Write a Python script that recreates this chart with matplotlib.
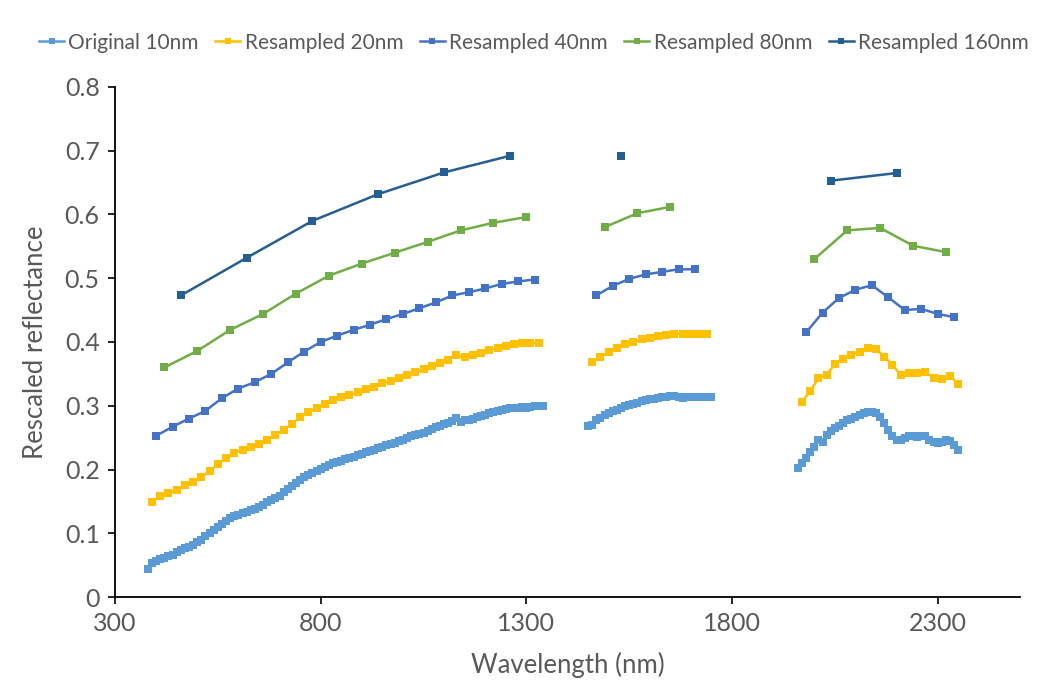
import numpy as np
import matplotlib.pyplot as plt

plt.rcParams['font.family'] = ['Lato', 'DejaVu Sans']

# three spectral windows (water bands removed), original 10 nm sampling
win10 = [(380, 1340), (1450, 1750), (1960, 2350)]
orig_seg1 = [0.044, 0.053, 0.056, 0.059, 0.061, 0.064, 0.066, 0.070, 0.074, 0.077,
             0.079, 0.082, 0.086, 0.090, 0.095, 0.100, 0.105, 0.110, 0.115, 0.120,
             0.124, 0.127, 0.129, 0.132, 0.134, 0.136, 0.138, 0.141, 0.145, 0.149,
             0.152, 0.155, 0.159, 0.164, 0.169, 0.174, 0.179, 0.184, 0.188, 0.192,
             0.195, 0.198, 0.201, 0.204, 0.207, 0.210, 0.212, 0.214, 0.216, 0.218,
             0.220, 0.222, 0.225, 0.227, 0.229, 0.231, 0.234, 0.236, 0.238, 0.240,
             0.242, 0.245, 0.247, 0.250, 0.252, 0.254, 0.256, 0.258, 0.261, 0.263,
             0.266, 0.268, 0.271, 0.273, 0.276, 0.281, 0.274, 0.277, 0.278, 0.280,
             0.282, 0.284, 0.286, 0.288, 0.290, 0.292, 0.293, 0.295, 0.296, 0.297,
             0.297, 0.298, 0.297, 0.298, 0.299, 0.299, 0.300]
orig_seg2 = [0.268, 0.270, 0.277, 0.281, 0.285, 0.288, 0.291, 0.293, 0.296, 0.299,
             0.301, 0.303, 0.305, 0.307, 0.309, 0.310, 0.311, 0.312, 0.313, 0.314,
             0.315, 0.315, 0.314, 0.312, 0.313, 0.313, 0.313, 0.313, 0.313, 0.313,
             0.313]
orig_seg3 = [0.202, 0.210, 0.218, 0.227, 0.236, 0.247, 0.243, 0.254, 0.261, 0.265,
             0.269, 0.273, 0.277, 0.280, 0.283, 0.286, 0.289, 0.290, 0.290, 0.288,
             0.282, 0.273, 0.262, 0.253, 0.247, 0.246, 0.250, 0.253, 0.252, 0.251,
             0.253, 0.252, 0.247, 0.243, 0.242, 0.243, 0.247, 0.244, 0.238, 0.231]

# resampled series (band centres + values, already offset by 0.1 per level)
wl20 = [list(range(390, 1331, 20)), list(range(1460, 1741, 20)), list(range(1970, 2351, 20))]
r20 = [[0.149, 0.158, 0.163, 0.168, 0.176, 0.181, 0.188, 0.198, 0.208, 0.218,
        0.226, 0.231, 0.235, 0.240, 0.247, 0.254, 0.262, 0.272, 0.282, 0.290,
        0.297, 0.303, 0.309, 0.313, 0.317, 0.321, 0.326, 0.330, 0.335, 0.339,
        0.344, 0.349, 0.353, 0.357, 0.362, 0.367, 0.372, 0.379, 0.376, 0.379,
        0.383, 0.387, 0.391, 0.394, 0.397, 0.398, 0.398, 0.399],
       [0.368, 0.376, 0.385, 0.391, 0.397, 0.400, 0.404, 0.407, 0.409, 0.411,
        0.413, 0.413, 0.413, 0.413, 0.413],
       [0.306, 0.323, 0.343, 0.349, 0.365, 0.373, 0.380, 0.385, 0.390, 0.389,
        0.377, 0.364, 0.348, 0.352, 0.352, 0.353, 0.344, 0.342, 0.347, 0.334]]

wl40 = [list(range(400, 1321, 40)), list(range(1470, 1711, 40)), list(range(1980, 2341, 40))]
r40 = [[0.253, 0.267, 0.280, 0.292, 0.312, 0.327, 0.337, 0.350, 0.368, 0.385,
        0.400, 0.410, 0.419, 0.427, 0.436, 0.444, 0.453, 0.462, 0.473, 0.478,
        0.484, 0.491, 0.495, 0.498],
       [0.473, 0.488, 0.499, 0.506, 0.510, 0.514, 0.514],
       [0.415, 0.446, 0.469, 0.482, 0.489, 0.470, 0.450, 0.452, 0.444, 0.439]]

wl80 = [list(range(420, 1301, 80)), [1490, 1570, 1650], [2000, 2080, 2160, 2240, 2320]]
r80 = [[0.360, 0.386, 0.419, 0.444, 0.476, 0.504, 0.523, 0.540, 0.557, 0.575,
        0.587, 0.596],
       [0.580, 0.602, 0.612],
       [0.530, 0.575, 0.579, 0.551, 0.541]]

wl160 = [[460, 620, 780, 940, 1100, 1260], [1530], [2040, 2200]]
r160 = [[0.473, 0.532, 0.590, 0.632, 0.666, 0.692], [0.692], [0.653, 0.665]]

labels = ['Original 10nm', 'Resampled 20nm', 'Resampled 40nm',
          'Resampled 80nm', 'Resampled 160nm']
colors = ['#5B9BD5', '#FFC000', '#4472C4', '#70AD47', '#255E91']

x_ticks = [300, 800, 1300, 1800, 2300]
y_ticks = [0, 0.1, 0.2, 0.3, 0.4, 0.5, 0.6, 0.7, 0.8]
y_ticklabels = ['0', '0.1', '0.2', '0.3', '0.4', '0.5', '0.6', '0.7', '0.8']

wl10 = [list(range(a, b + 1, 10)) for a, b in win10]
orig = [orig_seg1, orig_seg2, orig_seg3]

fig = plt.figure(figsize=(10.51, 6.93), dpi=100)
ax = fig.add_axes([0.1094, 0.1385, 0.8611, 0.736])

series = [(wl10, orig), (wl20, r20), (wl40, r40), (wl80, r80), (wl160, r160)]
sizes = [5.8, 5.4, 5.4, 5.4, 5.4]
for (wls, vals), lab, c, ms in zip(series, labels, colors, sizes):
    for i, (x, y) in enumerate(zip(wls, vals)):
        ax.plot(x, y, color=c, lw=1.8, marker='s', ms=ms, mew=0,
                label=lab if i == 0 else None)

ax.set_xlim(300, 2500)
ax.set_ylim(0, 0.8)
ax.set_xticks(x_ticks)
ax.set_yticks(y_ticks)
ax.set_yticklabels(y_ticklabels)
ax.tick_params(direction='out', length=5, width=1.2, colors='#000000',
               labelcolor='#595959', labelsize=18, pad=6)
for s in ['top', 'right']:
    ax.spines[s].set_visible(False)
for s in ['left', 'bottom']:
    ax.spines[s].set_linewidth(1.3)

ax.set_xlabel('Wavelength (nm)', fontsize=18.5, color='#595959', labelpad=12)
ax.set_ylabel('Rescaled reflectance', fontsize=18.5, color='#595959', labelpad=12)

leg = fig.legend(loc='upper center', bbox_to_anchor=(0.508, 0.98), ncol=5,
                 frameon=False, fontsize=15, handlelength=1.2,
                 handletextpad=0.2, columnspacing=0.8, markerscale=0.8)
for t in leg.get_texts():
    t.set_color('#595959')

fig.savefig('out.png', dpi=100)
